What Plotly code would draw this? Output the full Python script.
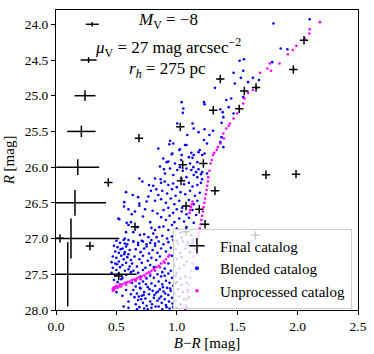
import plotly.graph_objects as go

# ── error-bar ladder (median photometric errors per magnitude bin) ──────────
err_mag = [24.0, 24.5, 25.0, 25.5, 26.0, 26.5, 27.0, 27.5]
err_col = [0.30, 0.27, 0.24, 0.21, 0.18, 0.157, 0.124, 0.097]
err_dcol = [0.054, 0.066, 0.087, 0.118, 0.178, 0.257, 0.40, 0.57]
err_dmag = [0.03, 0.04, 0.075, 0.08, 0.11, 0.18, 0.28, 0.45]

# ── final catalog (B-R, R) ──────────────────────────────────────────────────
final_pts = [
    (0.687, 25.594), (1.029, 25.436), (1.049, 25.967), (2.053, 24.224),
    (1.965, 24.634), (1.360, 24.765), (1.559, 24.933), (1.656, 24.886),
    (1.302, 25.203), (1.517, 25.184), (1.220, 25.949), (1.738, 26.107),
    (1.987, 26.098), (0.433, 26.214), (1.035, 26.190), (1.076, 26.545),
    (0.654, 26.835), (1.076, 26.905), (0.033, 26.997), (0.281, 27.105),
    (0.519, 27.524), (1.316, 26.330), (1.186, 26.590), (1.234, 26.800),
    (1.650, 26.955),
]

# ── blended catalog (B-R, R) ────────────────────────────────────────────────
blended_pts = [
    # bright part
    (1.80, 23.99), (2.10, 23.93), (1.86, 24.34), (1.915, 24.35), (1.79, 24.53),
    (1.556, 24.49), (1.52, 24.51), (1.47, 24.68), (1.55, 24.65), (1.53, 24.75),
    (1.59, 24.81), (1.63, 24.75), (1.68, 24.78), (1.316, 24.89), (1.48, 24.83),
    (1.55, 25.02), (1.45, 25.04), (1.41, 25.06), (1.225, 25.09), (1.23, 25.12),
    (1.43, 25.16), (1.36, 25.19), (1.38, 25.23), (1.385, 25.30), (1.47, 25.25),
    (1.37, 25.38), (1.04, 25.09), (1.05, 25.24), (1.13, 25.39), (1.14, 25.46),
    (1.23, 25.47), (1.30, 25.49), (1.27, 25.55), (1.37, 25.58), (1.36, 25.65),
    (1.225, 25.62), (1.25, 25.67), (1.385, 25.72), (1.14, 25.83), (1.18, 25.79),
    (1.21, 25.83), (1.23, 25.81), (1.10, 25.86), (1.11, 25.95), (1.08, 26.02),
    (1.12, 26.04), (1.18, 26.03), (1.21, 26.07), (1.25, 26.09), (1.08, 26.14),
    (1.14, 26.11), (1.04, 26.16), (1.054, 25.18), (1.004, 25.39), (1.087, 25.55),
    (0.847, 25.74), (0.944, 25.63), (0.971, 25.67), (1.026, 25.75), (1.068, 25.69),
    (0.888, 25.88), (0.958, 25.82), (1.04, 25.83), (0.916, 25.93), (0.985, 25.95),
    (0.861, 25.99), (0.944, 26.02), (1.026, 26.00), (0.902, 26.09), (0.971, 26.11),
    (0.69, 26.16), (1.18, 25.51), (0.938, 25.68), (1.08, 25.69), (1.02, 25.76),
    (0.963, 25.81), (1.12, 25.80), (1.19, 25.76), (0.93, 25.92), (1.035, 25.90),
    (1.13, 25.87), (1.17, 25.93), (0.894, 26.03), (1.004, 26.04), (1.05, 26.05),
    (1.137, 26.00), (1.16, 26.07), (1.20, 26.10), (0.82, 26.16), (0.866, 26.17),
    (1.17, 26.14), (1.21, 26.17),
    # middle part, left
    (0.715, 26.20), (0.77, 26.25), (0.805, 26.26), (0.786, 26.33), (0.83, 26.31),
    (0.58, 26.35), (0.635, 26.39), (0.68, 26.42), (0.765, 26.41), (0.847, 26.39),
    (0.565, 26.49), (0.69, 26.51), (0.75, 26.48), (0.82, 26.47), (0.69, 26.54),
    (0.60, 26.59), (0.737, 26.59), (0.80, 26.61), (0.654, 26.62), (0.627, 26.66),
    (0.84, 26.65), (0.72, 26.69), (0.524, 26.73), (0.585, 26.78), (0.62, 26.77),
    (0.78, 26.77), (0.673, 26.84), (0.60, 26.81), (0.79, 26.85), (0.855, 26.84),
    (0.82, 26.88), (0.58, 26.91), (0.64, 26.91), (0.73, 26.94), (0.805, 26.93),
    (0.765, 26.98), (0.695, 26.95), (0.833, 26.98), (0.57, 27.00), (0.60, 27.02),
    (0.64, 27.04), (0.68, 27.06), (0.72, 27.04), (0.79, 27.02), (0.57, 27.07),
    (0.75, 27.08), (0.82, 27.07), (0.516, 26.72), (0.563, 26.55),
    # middle part, right
    (0.87, 26.22), (0.90, 26.20), (0.93, 26.25), (0.97, 26.23), (1.00, 26.28),
    (1.06, 26.24), (1.10, 26.22), (1.13, 26.27), (1.17, 26.25), (1.20, 26.22),
    (0.88, 26.33), (0.92, 26.37), (0.96, 26.31), (0.99, 26.40), (1.03, 26.35),
    (1.07, 26.38), (1.11, 26.33), (1.15, 26.40), (1.19, 26.36), (0.87, 26.45),
    (0.91, 26.50), (0.95, 26.44), (0.98, 26.52), (1.02, 26.47), (1.045, 26.57),
    (1.10, 26.46), (1.14, 26.52), (1.17, 26.47), (0.89, 26.60), (0.93, 26.57),
    (0.97, 26.64), (1.00, 26.59), (1.04, 26.62), (1.08, 26.66), (1.13, 26.60),
    (1.16, 26.67), (0.87, 26.70), (0.91, 26.74), (0.94, 26.68), (0.98, 26.77),
    (1.02, 26.72), (1.06, 26.76), (1.10, 26.71), (1.14, 26.78), (0.89, 26.83),
    (0.93, 26.88), (0.96, 26.81), (1.00, 26.86), (1.03, 26.92), (1.08, 26.84),
    (1.12, 26.95), (0.88, 26.96), (0.92, 27.00), (0.96, 26.97), (1.00, 27.03),
    (1.04, 26.99), (1.09, 27.05), (1.13, 27.02),
    # faint part, left clump
    (0.50, 27.03), (0.53, 27.06), (0.56, 27.02), (0.59, 27.08), (0.48, 27.10),
    (0.51, 27.12), (0.55, 27.14), (0.58, 27.11), (0.61, 27.16), (0.49, 27.18),
    (0.52, 27.20), (0.57, 27.19), (0.60, 27.22), (0.47, 27.25), (0.50, 27.27),
    (0.54, 27.24), (0.56, 27.29), (0.59, 27.26), (0.62, 27.30), (0.46, 27.33),
    (0.49, 27.35), (0.52, 27.32), (0.55, 27.37), (0.58, 27.34), (0.61, 27.39),
    (0.47, 27.41), (0.50, 27.44), (0.53, 27.40), (0.57, 27.45), (0.60, 27.43),
    (0.46, 27.48), (0.49, 27.52), (0.52, 27.49), (0.55, 27.55), (0.58, 27.51),
    (0.48, 27.58), (0.51, 27.61), (0.54, 27.57), (0.62, 27.47), (0.535, 27.15),
    (0.505, 27.36), (0.565, 27.22),
    # faint part, middle
    (0.64, 27.04), (0.68, 27.09), (0.71, 27.03), (0.75, 27.11), (0.78, 27.06),
    (0.82, 27.10), (0.85, 27.04), (0.89, 27.08), (0.93, 27.05), (0.66, 27.15),
    (0.70, 27.19), (0.73, 27.14), (0.77, 27.21), (0.80, 27.16), (0.84, 27.20),
    (0.87, 27.14), (0.91, 27.18), (0.95, 27.13), (0.65, 27.25), (0.69, 27.29),
    (0.72, 27.24), (0.76, 27.31), (0.79, 27.27), (0.83, 27.30), (0.86, 27.25),
    (0.63, 27.35), (0.67, 27.39), (0.71, 27.34), (0.74, 27.41), (0.78, 27.37),
    (0.81, 27.40), (0.64, 27.45), (0.68, 27.48), (0.72, 27.44), (0.70, 27.53),
    # faint part, right
    (0.97, 27.02), (1.01, 27.07), (1.05, 27.04), (1.09, 27.09), (1.13, 27.06),
    (0.99, 27.15), (1.03, 27.20), (1.07, 27.14), (1.11, 27.19), (0.96, 27.24),
    (1.00, 27.29), (1.04, 27.26), (1.08, 27.32), (0.98, 27.38), (1.02, 27.42),
    (1.06, 27.37), (0.93, 27.35), (0.90, 27.42), (0.88, 27.47), (0.95, 27.45),
    (1.00, 27.48),
    # faintest part
    (0.63, 27.62), (0.66, 27.67), (0.69, 27.63), (0.72, 27.60), (0.75, 27.56),
    (0.78, 27.52), (0.81, 27.55), (0.84, 27.50), (0.87, 27.53), (0.90, 27.52),
    (0.93, 27.49), (0.96, 27.55), (0.99, 27.52), (1.03, 27.56), (1.07, 27.53),
    (0.64, 27.72), (0.67, 27.77), (0.70, 27.70), (0.73, 27.75), (0.76, 27.68),
    (0.79, 27.63), (0.82, 27.66), (0.85, 27.60), (0.88, 27.64), (0.91, 27.59),
    (0.94, 27.62), (0.97, 27.66), (1.00, 27.61), (1.04, 27.65), (1.08, 27.62),
    (0.65, 27.82), (0.68, 27.86), (0.71, 27.80), (0.74, 27.84), (0.77, 27.78),
    (0.80, 27.73), (0.83, 27.76), (0.86, 27.71), (0.89, 27.74), (0.92, 27.69),
    (0.95, 27.73), (0.98, 27.77), (1.01, 27.71), (1.05, 27.75), (1.09, 27.72),
    (0.66, 27.92), (0.69, 27.96), (0.72, 27.90), (0.75, 27.94), (0.78, 27.88),
    (0.81, 27.83), (0.84, 27.87), (0.87, 27.81), (0.90, 27.85), (0.93, 27.79),
    (0.96, 27.83), (0.99, 27.87), (1.02, 27.81), (1.06, 27.85), (1.10, 27.82),
    (0.67, 27.99), (0.73, 27.98), (0.79, 27.97), (0.85, 27.95), (0.91, 27.93),
    (0.97, 27.96), (1.03, 27.92), (1.08, 27.95), (0.76, 27.99), (0.88, 27.99),
    (0.94, 27.98), (1.00, 27.97), (0.50, 27.75), (0.55, 27.80), (0.58, 27.72),
    (0.60, 27.88), (0.56, 27.95), (0.62, 27.78), (0.60, 27.97), (0.655, 27.58),
    (0.695, 27.69), (0.745, 27.64), (0.775, 27.71), (0.815, 27.79), (0.845, 27.74),
    (0.875, 27.90), (0.905, 27.77), (0.935, 27.88), (0.965, 27.91), (0.705, 27.85),
    (0.725, 27.79), (0.685, 27.81), (0.795, 27.92), (0.825, 27.95), (0.855, 27.84),
    (0.885, 27.68), (0.915, 27.96), (0.945, 27.70), (0.985, 27.63),
]

# ── unprocessed catalog (B-R, R) ────────────────────────────────────────────
unproc_pts = [
    (2.185, 23.97), (2.10, 24.07), (2.097, 24.13), (2.06, 24.20), (1.99, 24.30),
    (1.96, 24.36), (1.92, 24.42), (1.85, 24.55), (1.77, 24.55), (1.75, 24.62),
    (1.78, 24.65), (1.69, 24.68), (1.66, 24.89), (1.63, 24.92), (1.59, 24.96),
    (1.56, 25.04), (1.55, 25.11), (1.52, 25.18), (1.50, 25.25), (1.47, 25.32),
    (1.44, 25.39), (1.43, 25.42), (1.41, 25.46), (1.385, 25.53), (1.39, 25.60),
    (1.36, 25.67), (1.34, 25.72), (1.33, 25.76), (1.31, 25.80), (1.30, 25.83),
    (1.29, 25.90), (1.28, 25.95), (1.27, 26.05), (1.26, 26.14), (1.258, 26.20),
    (1.252, 26.26), (1.246, 26.32), (1.240, 26.38), (1.234, 26.44), (1.228, 26.50),
    (1.222, 26.56), (1.216, 26.62), (1.210, 26.68), (1.204, 26.74), (1.198, 26.80),
    (1.190, 26.86), (1.182, 26.92), (1.176, 26.97), (1.13, 26.48), (1.125, 26.52),
    (1.118, 26.56), (1.11, 26.60), (1.105, 26.64), (1.16, 27.05), (1.15, 27.15),
    (1.14, 27.25), (1.13, 27.35), (1.12, 27.45), (1.11, 27.55), (1.10, 27.65),
    (1.09, 27.75), (1.085, 27.85), (1.076, 27.94), (1.07, 27.99),
    # faint branch
    (0.47, 27.70), (0.48, 27.68), (0.49, 27.69), (0.50, 27.66), (0.52, 27.67),
    (0.53, 27.64), (0.55, 27.64), (0.57, 27.62), (0.59, 27.61), (0.61, 27.60),
    (0.63, 27.58), (0.65, 27.57), (0.67, 27.56), (0.69, 27.54), (0.71, 27.53),
    (0.73, 27.51), (0.75, 27.49), (0.77, 27.47), (0.79, 27.45), (0.81, 27.43),
    (0.83, 27.40), (0.85, 27.38), (0.87, 27.35), (0.89, 27.32), (0.91, 27.29),
    (0.93, 27.25), (0.94, 27.23), (0.47, 27.73), (0.48, 27.72), (0.51, 27.69),
    (0.54, 27.67), (0.58, 27.645), (0.62, 27.62), (0.66, 27.595), (0.70, 27.57),
    (0.74, 27.535), (0.78, 27.495), (0.82, 27.45), (0.86, 27.40), (0.90, 27.34),
]

annot_lines = [
    "<i>M</i><sub>V</sub> = −8",
    "<i>μ</i><sub>V</sub> = 27 mag arcsec<sup>−2</sup>",
    "<i>r<sub>h</sub></i> = 275 pc",
]
annot_y = [0.962, 0.875, 0.80]

SERIF = "Liberation Serif"

blend_x, blend_y = zip(*blended_pts)
unproc_x, unproc_y = zip(*unproc_pts)
final_x, final_y = zip(*final_pts)

fig = go.Figure()

fig.add_trace(go.Scatter(
    x=blend_x, y=blend_y, mode="markers", showlegend=False,
    marker=dict(color="#0000ff", size=2.6, line=dict(width=0)),
))
fig.add_trace(go.Scatter(
    x=unproc_x, y=unproc_y, mode="markers", showlegend=False,
    marker=dict(color="#ff00ff", size=2.6, line=dict(width=0)),
))
fig.add_trace(go.Scatter(
    x=final_x, y=final_y, mode="markers", showlegend=False,
    marker=dict(symbol="cross-thin", size=6, color="black",
                line=dict(color="black", width=1.5)),
))
# error-bar ladder on the left
fig.add_trace(go.Scatter(
    x=err_col, y=err_mag, mode="markers", showlegend=False,
    marker=dict(size=1, color="black", opacity=0),
    error_x=dict(type="data", array=err_dcol, width=0, thickness=1.5, color="black"),
    error_y=dict(type="data", array=err_dmag, width=0, thickness=1.5, color="black"),
))

# legend-only entries (legend markers are drawn larger than the data marks)
fig.add_trace(go.Scatter(
    x=[None], y=[None], mode="markers", name="Final catalog",
    marker=dict(symbol="cross-thin", size=11, color="black",
                line=dict(color="black", width=1.5)),
))
fig.add_trace(go.Scatter(
    x=[None], y=[None], mode="markers", name="Blended catalog",
    marker=dict(color="#0000ff", size=4, line=dict(width=0)),
))
fig.add_trace(go.Scatter(
    x=[None], y=[None], mode="markers", name="Unprocessed catalog",
    marker=dict(color="#ff00ff", size=3.5, line=dict(width=0)),
))

for txt, yy in zip(annot_lines, annot_y):
    fig.add_annotation(
        x=0.37, y=yy, xref="paper", yref="paper",
        text=txt, showarrow=False, xanchor="center", yanchor="middle",
        font=dict(family=SERIF, size=17, color="black"),
    )

axis_common = dict(
    showline=True, mirror=True, linecolor="black", linewidth=1,
    ticks="outside", ticklen=4, tickcolor="black", showgrid=False,
    zeroline=False, tickformat=".1f", dtick=0.5, automargin=False,
    tickfont=dict(family=SERIF, size=13.5, color="black"),
)

fig.update_layout(
    width=374, height=354,
    margin=dict(l=56, r=16, t=10, b=44),
    paper_bgcolor="white", plot_bgcolor="white",
    font=dict(family=SERIF, color="black"),
    xaxis=dict(range=[0, 2.5], tick0=0,
               title=dict(text="<i>B</i>−<i>R</i> [mag]", standoff=4,
                          font=dict(family=SERIF, size=15)),
               **axis_common),
    yaxis=dict(range=[28, 23.8], tick0=24,
               title=dict(text="<i>R</i> [mag]", standoff=6,
                          font=dict(family=SERIF, size=15)),
               **axis_common),
    legend=dict(x=0.98, y=0.005, xanchor="right", yanchor="bottom",
                bgcolor="rgba(255,255,255,0.8)", bordercolor="#cccccc",
                borderwidth=1, font=dict(family=SERIF, size=15),
                itemsizing="trace", itemwidth=36, tracegroupgap=0),
)

fig.write_html("out.html", config={"displayModeBar": False},
               post_script="document.body.style.margin = '0';")
